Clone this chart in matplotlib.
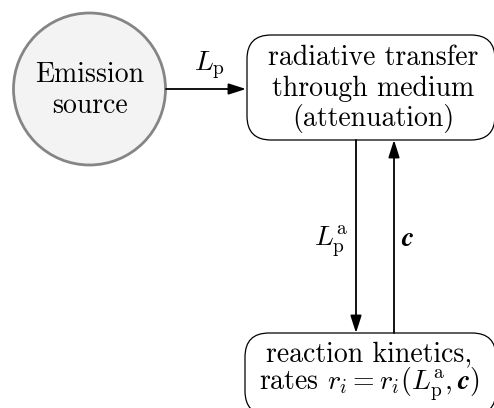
import matplotlib
matplotlib.use("Agg")
import matplotlib.pyplot as plt
from matplotlib.patches import Circle, FancyBboxPatch, FancyArrowPatch

plt.rcParams['mathtext.fontset'] = 'cm'
plt.rcParams['font.family'] = ['cmr10', 'DejaVu Serif']
plt.rcParams['axes.formatter.use_mathtext'] = True

# Diagram content
source_lines = ["Emission", "source"]
transfer_lines = ["radiative transfer", "through medium", "(attenuation)"]
kinetics_lines = ["reaction kinetics,", r"rates $r_i = r_i(L_\mathrm{p}^\mathrm{a}, \mathbfit{c})$"]
edge_labels = [r"$L_\mathrm{p}$", r"$L_\mathrm{p}^\mathrm{a}$", r"$\mathbfit{c}$"]

W, H = 494, 408
fig = plt.figure(figsize=(W / 100, H / 100), dpi=100)
ax = fig.add_axes([0, 0, 1, 1])
ax.set_xlim(0, W)
ax.set_ylim(H, 0)
ax.set_aspect('equal')
ax.axis('off')

FS = 20
lw_arrow = 1.3

# Emission source circle
ax.add_patch(Circle((89.5, 89), 76, facecolor='#f3f3f3', edgecolor='#858585', lw=2.0))
for t, yb in zip(source_lines, [82, 113]):
    ax.text(89.5, yb, t, ha='center', va='baseline', fontsize=FS)

# Radiative transfer box
ax.add_patch(FancyBboxPatch((247, 35), 248, 105, boxstyle='round,pad=0,rounding_size=24',
                            facecolor='white', edgecolor='black', lw=0.9))
for t, yb in zip(transfer_lines, [65, 96, 126]):
    ax.text(373, yb, t, ha='center', va='baseline', fontsize=FS)

# Reaction kinetics box
ax.add_patch(FancyBboxPatch((245, 333), 251, 82, boxstyle='round,pad=0,rounding_size=24',
                            facecolor='white', edgecolor='black', lw=0.9))
for t, yb in zip(kinetics_lines, [361, 389]):
    ax.text(369, yb, t, ha='center', va='baseline', fontsize=FS)

def arrow(p0, p1):
    ax.add_patch(FancyArrowPatch(p0, p1, arrowstyle='-|>,head_length=0.75,head_width=0.24',
                                 mutation_scale=14, color='black', lw=lw_arrow,
                                 shrinkA=0, shrinkB=0))

arrow((166, 89), (246, 89))
arrow((356, 140), (356, 333))
arrow((394, 333), (394, 140))

ax.text(210, 70, edge_labels[0], ha='center', va='baseline', fontsize=FS)
ax.text(331, 246, edge_labels[1], ha='center', va='baseline', fontsize=FS)
ax.text(408, 246, edge_labels[2], ha='center', va='baseline', fontsize=FS)

fig.savefig('out.png', dpi=100)
